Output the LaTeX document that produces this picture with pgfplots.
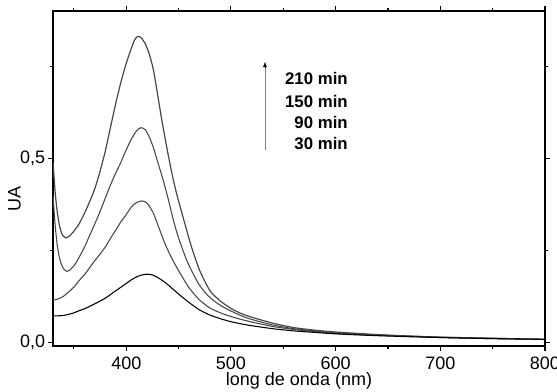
\documentclass[border=0pt]{standalone}
\usepackage{fontspec}
\setmainfont{Liberation Sans}
\usepackage{pgfplots}
\pgfplotsset{compat=1.18}
\usetikzlibrary{arrows.meta}
\definecolor{curve}{HTML}{474747}
\definecolor{arrowgray}{HTML}{808080}
\begin{document}
\begin{tikzpicture}
\begin{axis}[
  name=ax, at={(0,0)}, anchor=south west,
  scale only axis, width=369pt, height=251.25pt,
  xmin=330, xmax=800, ymin=-0.01, ymax=0.9,
  xtick={400,500,600,700,800},
  minor xtick={350,450,550,650,750},
  ytick={0,0.5}, yticklabels={{0,0},{0,5}},
  minor ytick={0.25,0.75},
  tick align=outside, tick pos=both,
  major tick length=3.75pt, minor tick length=2.5pt,
  every tick/.style={black, line width=0.8pt},
  axis line style={line width=0.8pt},
  font=\fontsize{13.5}{16}\selectfont,
  /pgf/number format/assume math mode=true,
  xticklabel style={inner sep=2pt, yshift=-2.5pt},
  yticklabel style={inner sep=2pt},
  xlabel={long de onda (nm)}, ylabel={UA},
  xlabel style={at={(axis description cs:0.5,-0.105)}, anchor=center},
  ylabel style={at={(axis description cs:-0.078,0.44)}, anchor=center},
  clip=true,
]
\addplot[curve, line width=0.9pt, smooth, tension=0.4] coordinates {
(330,0.49)(332,0.41)(334,0.355)(336,0.32)(338,0.298)(340,0.288)(342,0.284)(345,0.287)
(350,0.302)(355,0.322)(360,0.350)(365,0.382)(370,0.418)(375,0.465)(380,0.52)(385,0.585)
(390,0.65)(395,0.708)(400,0.758)(405,0.800)(408,0.822)(411,0.831)(414,0.828)(418,0.812)
(422,0.783)(426,0.739)(430,0.672)(434,0.603)(438,0.540)(443,0.467)(448,0.405)(455,0.332)
(462,0.262)(470,0.196)(480,0.140)(490,0.112)(500,0.092)(510,0.078)(520,0.068)(540,0.052)
(560,0.040)(580,0.033)(600,0.028)(640,0.021)(680,0.016)(700,0.014)(750,0.011)(800,0.008)
};
\addplot[curve, line width=0.8pt, smooth, tension=0.4] coordinates {
(330,0.40)(332,0.32)(334,0.265)(336,0.232)(338,0.212)(340,0.200)(343,0.193)(346,0.196)
(350,0.208)(354,0.226)(360,0.258)(364,0.284)(370,0.322)(375,0.356)(380,0.392)(385,0.428)
(390,0.46)(395,0.49)(399,0.517)(405,0.553)(410,0.575)(414,0.583)(418,0.578)(422,0.558)
(426,0.528)(430,0.49)(435,0.443)(440,0.39)(445,0.332)(450,0.283)(458,0.221)(465,0.18)
(470,0.155)(477,0.13)(485,0.11)(495,0.092)(510,0.072)(520,0.062)(540,0.047)(560,0.037)
(580,0.031)(600,0.026)(640,0.02)(700,0.014)(750,0.011)(800,0.008)
};
\addplot[curve, line width=0.8pt, smooth, tension=0.4] coordinates {
(330,0.115)(333,0.116)(336,0.119)(340,0.125)(345,0.137)(350,0.150)(355,0.168)(361,0.187)
(365,0.203)(370,0.222)(375,0.24)(380,0.259)(385,0.283)(390,0.305)(395,0.328)(399,0.343)
(405,0.368)(410,0.380)(415,0.384)(420,0.378)(426,0.350)(432,0.305)(438,0.261)(445,0.22)
(452,0.185)(460,0.148)(470,0.115)(480,0.093)(490,0.08)(500,0.07)(510,0.062)(520,0.055)
(540,0.043)(560,0.035)(580,0.029)(600,0.024)(640,0.019)(700,0.013)(750,0.01)(800,0.008)
};
\addplot[black, line width=0.8pt, smooth, tension=0.4] coordinates {
(330,0.072)(335,0.072)(340,0.073)(345,0.076)(350,0.080)(355,0.086)(361,0.092)(368,0.102)
(375,0.112)(380,0.120)(390,0.14)(399,0.158)(405,0.170)(410,0.178)(415,0.183)(420,0.185)
(425,0.183)(430,0.176)(436,0.165)(442,0.151)(450,0.131)(461,0.106)(470,0.088)(480,0.074)
(490,0.064)(500,0.056)(510,0.05)(520,0.045)(540,0.037)(560,0.031)(580,0.027)(600,0.023)
(640,0.018)(700,0.013)(750,0.01)(800,0.008)
};
\draw[arrowgray, line width=0.7pt] (axis cs:532.5,0.522) -- (axis cs:532.5,0.750);
\draw[black, line width=0.4pt, -{Latex[length=4pt,width=3pt]}] (axis cs:532.5,0.745) -- (axis cs:532.5,0.762);
\node[anchor=east, font=\fontsize{12.6}{15}\selectfont\bfseries, inner sep=0pt] at (axis cs:611.8,0.716) {210 min};
\node[anchor=east, font=\fontsize{12.6}{15}\selectfont\bfseries, inner sep=0pt] at (axis cs:611.8,0.653) {150 min};
\node[anchor=east, font=\fontsize{12.6}{15}\selectfont\bfseries, inner sep=0pt] at (axis cs:611.8,0.598) {90 min};
\node[anchor=east, font=\fontsize{12.6}{15}\selectfont\bfseries, inner sep=0pt] at (axis cs:611.8,0.541) {30 min};
\end{axis}
\pgfresetboundingbox
\path[use as bounding box] (-39.75pt,-34.5pt) rectangle (378pt,259.5pt);
\end{tikzpicture}
\end{document}
